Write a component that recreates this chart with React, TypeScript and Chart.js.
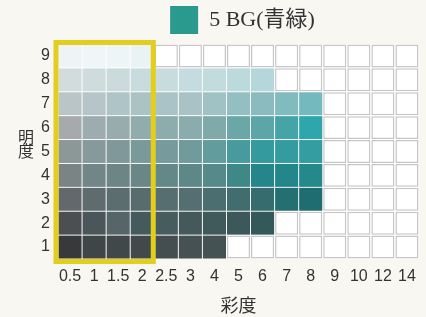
import React, { useEffect, useRef } from 'react';
import { Chart, registerables } from 'chart.js';

Chart.register(...registerables);

// ---- data ----
const chromaLabels = ['0.5', '1', '1.5', '2', '2.5', '3', '4', '5', '6', '7', '8', '9', '10', '12', '14'];
const valueLevels = [1, 2, 3, 4, 5, 6, 7, 8, 9];

// colours of the existing chips for each value (from chroma 0.5 upwards)
const value9Colors = ['#eef4f5', '#eef6f7', '#edf5f6', '#e9f3f3'];
const value8Colors = ['#d3dcdd', '#cfdcdd', '#cbdbdb', '#c8dcde', '#c8dcde', '#c4dcdf', '#c2dcdd', '#bcd9dc', '#b5d6da'];
const value7Colors = ['#bac5c7', '#b5c5c9', '#afc4c6', '#abc3c5', '#aac3c6', '#a8c2c5', '#a1c2c4', '#94bfc2', '#8bbbbe', '#80bbbe', '#74b9bd'];
const value6Colors = ['#a6aaad', '#9dadaf', '#98acad', '#91acac', '#8dadad', '#8aacad', '#80aaaa', '#6ba7a7', '#5ca6a7', '#45a4a8', '#2da7ab'];
const value5Colors = ['#8c9798', '#86999b', '#80989a', '#7a999a', '#779b9d', '#709a9b', '#629c9d', '#479b9e', '#349a9e', '#349b9f', '#339da1'];
const value4Colors = ['#7b8484', '#728587', '#6e8586', '#6a8687', '#648788', '#5e8788', '#56898a', '#3e8888', '#24858a', '#22868a', '#25888b'];
const value3Colors = ['#63686c', '#5f6c6d', '#5b6d6e', '#596c6d', '#576e70', '#546e71', '#4b6e70', '#426d6f', '#366c6e', '#236f72', '#1f6d70'];
const value2Colors = ['#4b4f52', '#4a5659', '#566567', '#455a5c', '#465c5f', '#45595b', '#40595a', '#3d585b', '#34595b'];
const value1Colors = ['#38393b', '#3f4648', '#414849', '#42494b', '#444e50', '#455152', '#445253'];

const colorsByValue: Record<number, string[]> = {
  1: value1Colors, 2: value2Colors, 3: value3Colors, 4: value4Colors, 5: value5Colors,
  6: value6Colors, 7: value7Colors, 8: value8Colors, 9: value9Colors,
};

const legendText = '5 BG(青緑)';
const legendColor = '#2a998e';
const highlightRange = ['0.5', '2'];
const xTitle = '彩度';
const yTitle = '明度';

// ---- styles ----
const BG = '#f9f7f2';
const TEXT = '#333333';
const EMPTY_BORDER = '#c6c6c6';
const HIGHLIGHT = '#e3ce1e';
const CELL_HALF = 0.48;
const SANS = '"Liberation Sans", Arial, sans-serif';
const CJK = '"Noto Sans CJK JP", "Noto Sans", sans-serif';

const bgPlugin = {
  id: 'bgPlugin',
  beforeDraw(chart: any) {
    const { ctx, width, height } = chart;
    ctx.save();
    ctx.fillStyle = BG;
    ctx.fillRect(0, 0, width, height);
    ctx.restore();
  },
  beforeDatasetsDraw(chart: any) {
    const { ctx, chartArea } = chart;
    ctx.save();
    ctx.fillStyle = '#ffffff';
    ctx.fillRect(chartArea.left, chartArea.top, chartArea.right - chartArea.left, chartArea.bottom - chartArea.top);
    ctx.restore();
  },
};

const legendShift = {
  id: 'legendShift',
  afterLayout(chart: any) {
    const lg = chart.legend;
    if (lg) {
      lg.left += 4;
      lg.right += 4;
    }
  },
};

const highlightPlugin = {
  id: 'highlightPlugin',
  afterDatasetsDraw(chart: any) {
    const { ctx, chartArea } = chart;
    const xs = chart.scales.x;
    const i0 = chromaLabels.indexOf(highlightRange[0]);
    const i1 = chromaLabels.indexOf(highlightRange[1]);
    const step = xs.getPixelForTick(1) - xs.getPixelForTick(0);
    const left = xs.getPixelForTick(i0) - step / 2 - 2;
    const right = xs.getPixelForTick(i1) + step / 2 - 1;
    const top = chartArea.top - 1.5;
    const bottom = chartArea.bottom + 2.5;
    ctx.save();
    ctx.strokeStyle = HIGHLIGHT;
    ctx.lineWidth = 5;
    ctx.strokeRect(left, top, right - left, bottom - top);
    ctx.restore();
  },
};

const yTitlePlugin = {
  id: 'yTitlePlugin',
  afterDraw(chart: any) {
    const { ctx, chartArea } = chart;
    const cy = (chartArea.top + chartArea.bottom) / 2 - 7.5;
    const chars = Array.from(yTitle);
    const lh = 14;
    ctx.save();
    ctx.fillStyle = TEXT;
    ctx.font = `16px ${CJK}`;
    ctx.textAlign = 'center';
    ctx.textBaseline = 'middle';
    chars.forEach((c, i) => {
      ctx.fillText(c, 26, cy + (i - (chars.length - 1) / 2) * lh);
    });
    ctx.restore();
  },
};

export default function App() {
  const ref = useRef<HTMLCanvasElement>(null);

  useEffect(() => {
    if (!ref.current) return;
    const datasets = valueLevels.map((v) => {
      const colors = colorsByValue[v];
      return {
        label: `V${v}`,
        data: chromaLabels.map(() => [v - CELL_HALF, v + CELL_HALF]),
        backgroundColor: chromaLabels.map((_, i) => colors[i] ?? '#ffffff'),
        borderColor: chromaLabels.map((_, i) => colors[i] ?? EMPTY_BORDER),
        borderWidth: chromaLabels.map((_, i) => (colors[i] ? 0 : 1.5)),
        borderSkipped: false,
        grouped: false,
        barPercentage: 0.96,
        categoryPercentage: 1,
        inflateAmount: 0,
      };
    });

    const chart = new Chart(ref.current, {
      type: 'bar',
      data: { labels: chromaLabels, datasets: datasets as any },
      plugins: [bgPlugin, legendShift, highlightPlugin, yTitlePlugin],
      options: {
        animation: false,
        responsive: false,
        events: [],
        layout: { padding: { left: 0, right: 7, top: 0, bottom: 0 } },
        plugins: {
          tooltip: { enabled: false },
          legend: {
            display: true,
            position: 'top',
            fullSize: false,
            labels: {
              boxWidth: 28,
              boxHeight: 28,
              padding: 6,
              color: TEXT,
              font: { size: 22, family: '"Liberation Serif", "Noto Sans CJK JP", serif' },
              generateLabels: () => [
                {
                  text: legendText,
                  fillStyle: legendColor,
                  strokeStyle: legendColor,
                  lineWidth: 0,
                  hidden: false,
                  datasetIndex: 0,
                  fontColor: TEXT,
                } as any,
              ],
            },
          },
        },
        scales: {
          x: {
            type: 'category',
            offset: true,
            grid: { display: false, drawTicks: false },
            border: { display: false },
            ticks: { color: TEXT, font: { size: 16, family: SANS }, padding: 8, maxRotation: 0, autoSkip: false },
            title: {
              display: true,
              text: xTitle,
              color: TEXT,
              font: { size: 18, family: CJK },
              padding: { top: 0, bottom: 1 },
            },
            afterFit: (s: any) => { s.height = 58; },
          },
          y: {
            type: 'linear',
            min: 0.5,
            max: 9.5,
            grid: { display: false, drawTicks: false },
            border: { display: false },
            ticks: { color: TEXT, font: { size: 16, family: SANS }, padding: 8 },
            afterBuildTicks: (s: any) => { s.ticks = valueLevels.map((v) => ({ value: v })); },
            afterFit: (s: any) => { s.width = 58; },
          },
        },
      },
    });
    return () => chart.destroy();
  }, []);

  return (
    <div style={{ position: 'fixed', left: 0, top: 0, width: 426, height: 317, background: BG }}>
      <canvas ref={ref} width={426} height={317} style={{ display: 'block', width: 426, height: 317 }} />
    </div>
  );
}
